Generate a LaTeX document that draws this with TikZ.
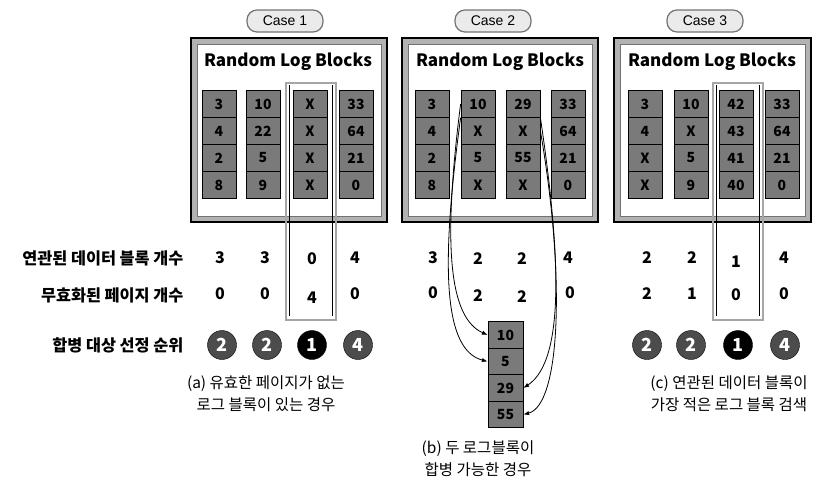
\documentclass[tikz,border=0pt]{standalone}
\usepackage{fontspec}
\setmainfont{Noto Sans CJK KR}
\newfontfamily\casefont{Liberation Sans}
\usetikzlibrary{arrows.meta}

\begin{document}
\begin{tikzpicture}[x=1pt,y=-1pt,>=Latex,
  cell/.style={draw=black,line width=0.8pt,fill=black!52,minimum width=34pt,minimum height=26.7pt,inner sep=0pt,font=\fontsize{14}{14}\selectfont\bfseries},
  mcell/.style={cell,minimum width=35pt,minimum height=26.5pt},
  pill/.style={draw=black!55,line width=1.2pt,fill=black!8,rounded corners=10pt,minimum width=76pt,minimum height=22pt,inner sep=0pt,font=\casefont\fontsize{14}{14}\selectfont},
  frame/.style={draw=black,line width=1.2pt,fill=black!30},
  inner/.style={draw=black!55,line width=0.6pt,fill=white},
  title/.style={font=\fontsize{17}{17}\selectfont\bfseries},
  rowlabel/.style={anchor=east,font=\fontsize{16.3}{16.3}\selectfont\bfseries},
  num/.style={font=\fontsize{16}{16}\selectfont\bfseries},
  rank/.style={circle,fill=black!70,draw=black,text=white,minimum size=29pt,inner sep=0pt,font=\fontsize{18}{18}\selectfont\bfseries},
  first/.style={rank,fill=black},
  caption/.style={align=center,font=\fontsize{15.5}{22}\selectfont},
  hlout/.style={draw=black!35,line width=1.2pt},
  hlin/.style={draw=black,line width=1.6pt},
  merge/.style={-{Latex[length=2mm]},line width=0.8pt}]
\useasboundingbox (0,0) rectangle (825,493);

% case labels
\node[pill] (case1) at (285,21) {Case 1};
\node[pill] (case2) at (493,21) {Case 2};
\node[pill] (case3) at (705,21) {Case 3};

% panels
\draw[frame] (191,38) rectangle (387,222);
\draw[inner] (197,44) rectangle (381,216);
\draw[frame] (402,38) rectangle (598,222);
\draw[inner] (408,44) rectangle (592,216);
\draw[frame] (614,38) rectangle (811,222);
\draw[inner] (620,44) rectangle (805,216);
\node[title] (ta) at (288,62) {Random Log Blocks};
\node[title] (tb) at (500,62) {Random Log Blocks};
\node[title] (tc) at (712,62) {Random Log Blocks};

% selected blocks
\draw[hlout] (286,83) rectangle (336,320);
\draw[hlin] (289.5,85) -- (289.5,316) (332.5,85) -- (332.5,316);
\draw[hlout] (713,83) rectangle (763,320);
\draw[hlin] (716.5,85) -- (716.5,316) (759.5,85) -- (759.5,316);

% case 1 blocks
\node[cell] (a11) at (219,104) {3}; \node[cell] (a12) at (219,131) {4}; \node[cell] (a13) at (219,158) {2}; \node[cell] (a14) at (219,185) {8};
\node[cell] (a21) at (263,104) {10}; \node[cell] (a22) at (263,131) {22}; \node[cell] (a23) at (263,158) {5}; \node[cell] (a24) at (263,185) {9};
\node[cell] (a31) at (310,104) {X}; \node[cell] (a32) at (310,131) {X}; \node[cell] (a33) at (310,158) {X}; \node[cell] (a34) at (310,185) {X};
\node[cell] (a41) at (356,104) {33}; \node[cell] (a42) at (356,131) {64}; \node[cell] (a43) at (356,158) {21}; \node[cell] (a44) at (356,185) {0};

% case 2 blocks
\node[cell] (b11) at (432,104) {3}; \node[cell] (b12) at (432,131) {4}; \node[cell] (b13) at (432,158) {2}; \node[cell] (b14) at (432,185) {8};
\node[cell] (b21) at (478,104) {10}; \node[cell] (b22) at (478,131) {X}; \node[cell] (b23) at (478,158) {5}; \node[cell] (b24) at (478,185) {X};
\node[cell] (b31) at (523,104) {29}; \node[cell] (b32) at (523,131) {X}; \node[cell] (b33) at (523,158) {55}; \node[cell] (b34) at (523,185) {X};
\node[cell] (b41) at (568,104) {33}; \node[cell] (b42) at (568,131) {64}; \node[cell] (b43) at (568,158) {21}; \node[cell] (b44) at (568,185) {0};

% case 3 blocks
\node[cell] (c11) at (645,104) {3}; \node[cell] (c12) at (645,131) {4}; \node[cell] (c13) at (645,158) {X}; \node[cell] (c14) at (645,185) {X};
\node[cell] (c21) at (691,104) {10}; \node[cell] (c22) at (691,131) {X}; \node[cell] (c23) at (691,158) {5}; \node[cell] (c24) at (691,185) {9};
\node[cell] (c31) at (736,104) {42}; \node[cell] (c32) at (736,131) {43}; \node[cell] (c33) at (736,158) {41}; \node[cell] (c34) at (736,185) {40};
\node[cell] (c41) at (782,104) {33}; \node[cell] (c42) at (782,131) {64}; \node[cell] (c43) at (782,158) {21}; \node[cell] (c44) at (782,185) {0};

% row labels
\node[rowlabel] (lrel) at (187,258) {연관된 데이터 블록 개수};
\node[rowlabel] (linv) at (187,295) {무효화된 페이지 개수};
\node[rowlabel] (lord) at (187,345) {합병 대상 선정 순위};

% counts
\node[num] (ra1) at (220,258) {3}; \node[num] (ra2) at (265,258) {3}; \node[num] (ra3) at (312,259) {0}; \node[num] (ra4) at (355,258) {4};
\node[num] (ia1) at (220,294) {0}; \node[num] (ia2) at (265,294) {0}; \node[num] (ia3) at (312,298) {4}; \node[num] (ia4) at (355,294) {0};
\node[num] (rb1) at (433,258) {3}; \node[num] (rb2) at (478,259) {2}; \node[num] (rb3) at (522,259) {2}; \node[num] (rb4) at (568,258) {4};
\node[num] (ib1) at (433,293) {0}; \node[num] (ib2) at (478,296) {2}; \node[num] (ib3) at (522,297) {2}; \node[num] (ib4) at (570,293) {0};
\node[num] (rc1) at (647,258) {2}; \node[num] (rc2) at (692,258) {2}; \node[num] (rc3) at (736,262) {1}; \node[num] (rc4) at (784,258) {4};
\node[num] (ic1) at (647,294) {2}; \node[num] (ic2) at (692,294) {1}; \node[num] (ic3) at (736,295) {0}; \node[num] (ic4) at (784,294) {0};

% ranks
\node[rank] (ka1) at (222,345) {2}; \node[rank] (ka2) at (267,345) {2}; \node[first] (ka3) at (312,345) {1}; \node[rank] (ka4) at (358,345) {4};
\node[rank] (kc1) at (647,345) {2}; \node[rank] (kc2) at (691,345) {2}; \node[first] (kc3) at (738,345) {1}; \node[rank] (kc4) at (785,345) {4};

% merged block
\node[mcell] (m1) at (505.5,335) {10};
\node[mcell] (m2) at (505.5,361.5) {5};
\node[mcell] (m3) at (505.5,388) {29};
\node[mcell] (m4) at (505.5,414.5) {55};
\draw[merge] (b21.west) .. controls (442,250) and (450,318) .. (m1.west);
\draw[merge] (b21.south west) .. controls (440,270) and (444,350) .. (m2.west);
\draw[merge] (b31.south east) .. controls (560,250) and (566,360) .. (m3.east);
\draw[merge] (b32.east) .. controls (566,280) and (560,405) .. (m4.east);

% captions
\node[caption] (capa) at (266,394) {(a) 유효한 페이지가 없는\\로그 블록이 있는 경우};
\node[caption] (capb) at (478,459) {(b) 두 로그블록이\\합병 가능한 경우};
\node[caption] (capc) at (729,394) {(c) 연관된 데이터 블록이\\가장 적은 로그 블록 검색};
\end{tikzpicture}
\end{document}
